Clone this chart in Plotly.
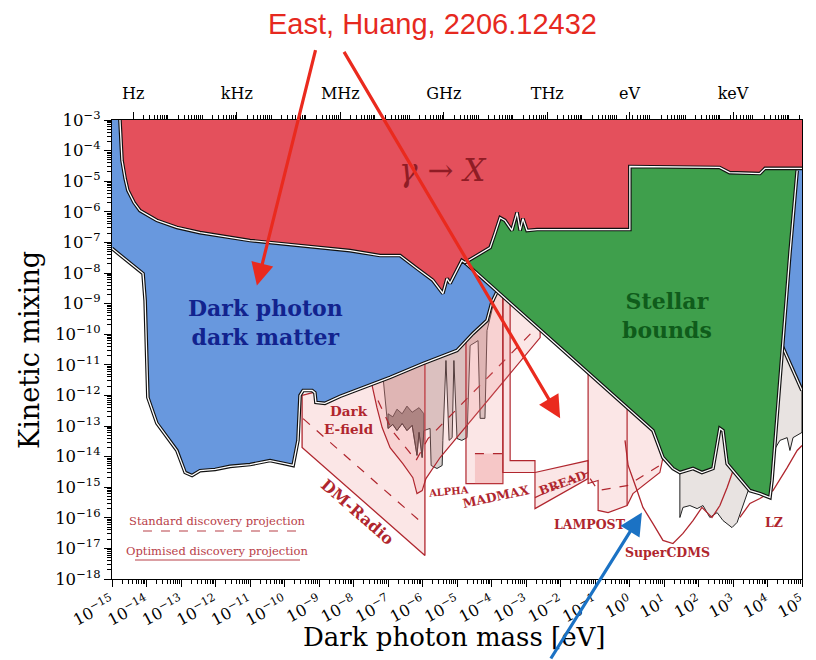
import plotly.graph_objects as go

# ---------------- data: (log10 mass [eV], log10 kinetic mixing) ----------------
RED_EDGE = [(-14.77, -3.00), (-14.74, -3.67), (-14.71, -4.32), (-14.62, -4.91), (-14.54, -5.30),
            (-14.36, -5.70), (-14.19, -5.96), (-13.90, -6.15), (-13.70, -6.28), (-13.12, -6.51),
            (-12.45, -6.68), (-11.00, -6.94), (-9.55, -7.10), (-8.10, -7.27), (-7.23, -7.43),
            (-6.65, -7.43), (-6.16, -7.85), (-5.70, -8.24), (-5.41, -8.67), (-5.29, -8.18),
            (-5.20, -8.34), (-5.00, -7.92), (-4.86, -7.59), (-4.77, -7.66), (-4.42, -7.43),
            (-4.04, -7.17), (-3.90, -6.71), (-3.75, -6.19), (-3.61, -6.28), (-3.41, -6.61),
            (-3.26, -6.02), (-3.17, -6.61), (-3.09, -6.22), (-2.97, -6.61), (-2.68, -6.58),
            (0.01, -6.58), (0.01, -4.52), (2.61, -4.55), (2.90, -4.72), (3.78, -4.75),
            (3.93, -4.58), (5.00, -4.58)]
RED_TOP = [(5.00, -3.00)]

BLUE_TOP = [(-15.00, -3.00), (5.00, -3.00), (5.00, -11.84)]
BLUE_RIGHT_EDGE = [(5.00, -11.84), (4.42, -10.37)]
BLUE_HIDDEN = [(4.30, -11.51), (1.10, -8.90), (-3.75, -8.25)]
BLUE_EDGE = [(-3.84, -8.61), (-3.90, -8.74), (-3.99, -8.96), (-4.13, -9.55), (-4.54, -9.98),
             (-5.00, -10.53), (-5.49, -10.73), (-5.99, -10.96), (-6.94, -11.41), (-7.81, -11.77),
             (-8.39, -12.03), (-8.83, -12.26), (-9.09, -12.23), (-9.12, -11.91), (-9.20, -11.84),
             (-9.46, -11.84), (-9.55, -12.00), (-9.61, -13.47), (-9.75, -14.29), (-9.99, -14.23),
             (-10.42, -14.13), (-11.00, -14.26), (-11.58, -14.32), (-12.01, -14.42), (-12.45, -14.46),
             (-12.68, -14.62), (-12.88, -14.52), (-13.12, -13.80), (-13.41, -13.37), (-13.70, -12.91),
             (-13.96, -12.07), (-13.99, -10.86), (-14.04, -8.90), (-14.10, -8.02), (-15.00, -7.20)]

GREEN_EDGE = [(-4.77, -7.66), (0.68, -13.15), (0.97, -14.03), (1.26, -14.39), (1.46, -14.52),
              (1.84, -14.39), (2.10, -14.52), (2.42, -14.39), (2.62, -13.08), (2.71, -13.15),
              (2.83, -14.23), (3.49, -15.11), (3.78, -15.21), (4.07, -15.34), (4.13, -14.78),
              (4.30, -12.27), (4.45, -10.11), (4.65, -7.36), (4.86, -4.65)]
GREEN_HIDDEN = [(4.86, -4.32), (-0.13, -4.32), (-0.13, -6.12), (-3.75, -6.12), (-3.90, -6.61),
                (-4.48, -7.33)]

HALOSCOPE_GRAY = [(-7.14, -11.45), (-7.00, -13.08), (-6.86, -12.95), (-6.74, -13.15), (-6.59, -12.92),
                  (-6.45, -13.15), (-6.30, -12.98), (-6.16, -13.96), (-6.10, -13.21), (-6.01, -14.03),
                  (-5.96, -13.15), (-5.78, -13.08), (-5.75, -14.29), (-5.58, -14.39), (-5.43, -14.29),
                  (-5.41, -13.47), (-5.32, -10.86), (-5.23, -13.47), (-5.14, -13.38), (-5.09, -10.86),
                  (-5.00, -13.41), (-4.86, -13.47), (-4.71, -13.38), (-4.62, -10.37), (-4.39, -10.21),
                  (-4.33, -12.75), (-4.19, -12.75), (-4.13, -9.88), (-3.99, -9.23), (-3.90, -8.74),
                  (-3.90, -8.25), (-7.14, -10.86)]
HALOSCOPE_DARK = [(-7.00, -13.08), (-6.86, -12.95), (-6.74, -13.15), (-6.59, -12.92), (-6.45, -13.15),
                  (-6.30, -12.98), (-6.16, -13.96), (-6.10, -13.21), (-6.01, -14.03), (-5.96, -13.15),
                  (-5.96, -12.60), (-6.10, -12.40), (-6.30, -12.55), (-6.45, -12.35), (-6.59, -12.60),
                  (-6.74, -12.45), (-6.86, -12.70), (-7.00, -12.60)]

DIRECT_GRAY = [(1.46, -14.29), (1.46, -15.99), (1.55, -15.66), (1.75, -15.60), (1.96, -15.70),
               (2.13, -15.60), (2.33, -15.99), (2.54, -15.83), (2.71, -16.09), (2.97, -16.32),
               (3.12, -16.15), (3.29, -15.60), (3.49, -14.95), (3.78, -14.46), (3.99, -13.97),
               (4.22, -13.74), (4.36, -13.47), (4.57, -13.38), (4.65, -13.80), (4.74, -13.38),
               (5.00, -13.21), (5.00, -11.84), (4.42, -10.37), (3.78, -11.51), (2.04, -13.47)]

DMRADIO = [(-9.49, -12.00), (-9.49, -13.70), (-5.93, -17.23), (-5.93, -10.96)]
DMRADIO_STD = [(-9.46, -12.76), (-5.93, -16.25)]
EFIELD = [(-7.46, -11.68), (-7.32, -12.40), (-7.17, -13.05), (-6.94, -13.71), (-6.57, -14.23),
          (-6.28, -14.69), (-6.16, -15.21), (-6.01, -15.11), (-5.90, -14.72), (-5.49, -14.03),
          (-2.59, -10.11), (-2.59, -9.60), (-3.84, -8.41), (-7.46, -11.19)]
EFIELD_STD = [(-7.29, -12.17), (-6.88, -13.15), (-6.42, -13.80), (-6.19, -14.13), (-5.84, -13.41),
              (-2.83, -9.94)]
ALPHA = [(-4.74, -8.50), (-4.74, -14.88), (-3.67, -14.88), (-3.67, -8.50)]
ALPHA_INNER = [(-4.48, -13.90), (-4.48, -14.88), (-3.67, -14.88), (-3.67, -13.90)]
ALPHA_STD = [(-4.48, -13.90), (-3.67, -13.90)]
MADMAX = [(-3.67, -8.40), (-3.67, -14.52), (-2.74, -14.52), (-2.74, -14.13), (-3.46, -14.13),
          (-3.46, -8.40)]
BREAD = [(-2.74, -14.52), (-2.74, -15.70), (-1.20, -14.72), (-1.20, -14.13)]
BREAD_STD = [(-2.74, -15.34), (-1.20, -14.52)]
LAMPOST = [(-1.20, -11.02), (-1.20, -14.88), (-0.91, -14.78), (-0.91, -15.76), (-0.62, -15.83),
           (-0.07, -15.60), (0.10, -15.21), (0.88, -14.52), (0.97, -14.03), (0.74, -12.98)]
LAMPOST_DIV = [(-0.07, -12.17), (-0.07, -15.60)]
LAMPOST_STD = [(-1.14, -14.72), (-0.91, -15.11), (-0.07, -14.95), (0.88, -14.29)]
SUPERCDMS = [(-0.13, -13.47), (-0.04, -14.29), (0.22, -15.11), (0.39, -15.66), (0.68, -16.19),
             (0.97, -16.74), (1.26, -16.84), (1.55, -16.51), (1.84, -16.09), (2.10, -15.66),
             (2.25, -15.83), (2.39, -15.99), (2.62, -15.60), (2.83, -15.01), (3.00, -14.46),
             (3.14, -14.39)]
LZ = [(3.20, -15.99), (3.49, -15.53), (3.78, -15.37), (4.16, -15.11), (4.57, -14.36),
      (4.86, -13.80), (5.00, -13.64)]

X_EXPS = list(range(-15, 6))
Y_EXPS = list(range(-18, -2))
TOP_LABELS = ["Hz", "kHz", "MHz", "GHz", "THz", "eV", "keV"]
TOP_VALUES_EV = [4.136e-15, 4.136e-12, 4.136e-9, 4.136e-6, 4.136e-3, 1.0, 1.0e3]

# ---------------- styling ----------------
RED_FILL = "#E4505C"
BLUE_FILL = "#6898DE"
GREEN_FILL = "#3F9F4C"
PINK = "rgba(236,140,140,0.22)"
PINK2 = "rgba(236,130,130,0.30)"
DR = "#B0262E"
SERIF = "DejaVu Serif"

fig = go.Figure()


def xy(pairs):
    return [10 ** p[0] for p in pairs], [10 ** p[1] for p in pairs]


def poly(pairs, fill, lc=None, lw=0.0):
    x, y = xy(pairs + [pairs[0]])
    fig.add_trace(go.Scatter(x=x, y=y, mode="lines", fill="toself", fillcolor=fill,
                             line=dict(color=lc or "rgba(0,0,0,0)", width=lw),
                             hoverinfo="skip", showlegend=False))


def path(pairs, color, lw, dash=None):
    x, y = xy(pairs)
    fig.add_trace(go.Scatter(x=x, y=y, mode="lines",
                             line=dict(color=color, width=lw, dash=dash),
                             hoverinfo="skip", showlegend=False))


def halo(pairs):
    path(pairs, "#111111", 3.6)
    path(pairs, "white", 1.3)


poly(HALOSCOPE_GRAY, "#D6CFCD", "#111111", 0.9)
poly(HALOSCOPE_DARK, "rgba(40,30,30,0.45)", "#111111", 0.8)
poly(DIRECT_GRAY, "#E8E3E1", "#222222", 1.0)

poly(DMRADIO, PINK, DR, 1.3)
path(DMRADIO_STD, DR, 1.2, "dash")
poly(EFIELD, PINK, DR, 1.2)
path(EFIELD_STD, DR, 1.2, "dash")
poly(ALPHA, PINK, DR, 1.2)
poly(ALPHA_INNER, PINK2, DR, 0.0)
path(ALPHA_STD, DR, 1.2, "dash")
poly(MADMAX, PINK, DR, 1.2)
poly(BREAD, PINK, DR, 1.2)
path(BREAD_STD, DR, 1.2, "dash")
poly(LAMPOST, PINK, DR, 1.2)
path(LAMPOST_DIV, DR, 1.2)
path(LAMPOST_STD, DR, 1.2, "dash")
path(SUPERCDMS, DR, 1.3)
path(LZ, DR, 1.3)

poly(BLUE_TOP + BLUE_RIGHT_EDGE[1:] + BLUE_HIDDEN + BLUE_EDGE, BLUE_FILL)
halo(BLUE_EDGE)
halo(BLUE_RIGHT_EDGE)

poly(GREEN_EDGE + GREEN_HIDDEN, GREEN_FILL)
halo(GREEN_EDGE)

poly(RED_EDGE + RED_TOP, RED_FILL)
halo(RED_EDGE)

# invisible trace so the top (frequency) axis is drawn
fig.add_trace(go.Scatter(x=[1e-15, 1e5], y=[1e-10, 1e-10], xaxis="x2", mode="markers",
                         marker=dict(opacity=0), hoverinfo="skip", showlegend=False))


def sup(e):
    return "10<sup>" + ("\u2212" if e < 0 else "") + str(abs(e)) + "</sup>"


x_minor = [k * 10.0 ** e for e in range(-15, 5) for k in range(2, 10)]
y_minor = [k * 10.0 ** e for e in range(-18, -3) for k in range(2, 10)]
top_minor = [k * 4.136e-15 * 10.0 ** n for n in range(0, 21) for k in range(1, 10)
             if not (k == 1 and n % 3 == 0)]
top_minor = [v for v in top_minor if 1e-15 < v < 1e5]

axis_common = dict(showgrid=False, zeroline=False, showline=True, linecolor="black",
                   linewidth=1.4, ticks="outside", tickcolor="black", tickwidth=1.3, ticklen=7,
                   automargin=False)

# the page body adds an 8 px offset, so the figure is 8 px smaller and margins are shifted
fig.update_layout(
    template="none",
    width=808, height=652,
    margin=dict(l=104, r=14, t=112, b=81),
    paper_bgcolor="white", plot_bgcolor="white",
    hovermode=False,
    xaxis=dict(type="log", range=[-15, 5], mirror=True,
               tickvals=[10.0 ** e for e in X_EXPS], ticktext=[sup(e) for e in X_EXPS],
               tickangle=-28, tickfont=dict(family=SERIF, size=16, color="black"),
               minor=dict(tickvals=x_minor, ticks="outside", ticklen=4, tickcolor="black", tickwidth=0.8),
               **axis_common),
    xaxis2=dict(type="log", range=[-15, 5], overlaying="x", side="top",
                tickvals=TOP_VALUES_EV, ticktext=TOP_LABELS, ticklabelstandoff=6,
                tickfont=dict(family=SERIF, size=16, color="black"),
                minor=dict(tickvals=top_minor, ticks="outside", ticklen=4, tickcolor="black", tickwidth=0.8),
                **axis_common),
    yaxis=dict(type="log", range=[-18, -3], mirror=True,
               tickvals=[10.0 ** e for e in Y_EXPS], ticktext=[sup(e) for e in Y_EXPS],
               tickfont=dict(family=SERIF, size=16.5, color="black"),
               minor=dict(tickvals=y_minor, ticks="outside", ticklen=4, tickcolor="black", tickwidth=0.8),
               **axis_common),
)

ann = []


def label(x, y, text, size, color, angle=0, family=SERIF):
    ann.append(dict(x=x, y=y, xref="x", yref="y", text=text, showarrow=False, textangle=angle,
                    xanchor="center", yanchor="middle",
                    font=dict(family=family, size=size, color=color)))


label(-10.55, -9.62, "<b>Dark photon<br>dark matter</b>", 22, "#12238E")
label(1.08, -9.40, "<b>Stellar<br>bounds</b>", 22, "#0F5C1B")
label(-5.42, -4.65, "<i>\u03b3</i> \u2192 <i>X</i>", 31, "#8F1C25")
label(-8.13, -12.79, "<b>Dark<br>E-field</b>", 13.5, DR)
label(-7.87, -15.83, "<b>DM-Radio</b>", 16, DR, 41)
label(-5.26, -15.14, "<b>ALPHA</b>", 10, DR, -5)
label(-3.87, -15.30, "<b>MADMAX</b>", 12.5, DR, -12)
label(-1.93, -14.85, "<b>BREAD</b>", 12, DR, -20)
label(-1.14, -16.22, "<b>LAMPOST</b>", 12.5, DR)
label(1.09, -17.13, "<b>SuperCDMS</b>", 12.5, DR)
label(4.19, -16.15, "<b>LZ</b>", 12.5, DR)

# paper-positioned text
ann.append(dict(x=0.1536, y=0.1264, xref="paper", yref="paper", text="Standard discovery projection",
                showarrow=False, xanchor="center", yanchor="middle",
                font=dict(family=SERIF, size=11.5, color="#B84048")))
ann.append(dict(x=0.1522, y=0.061, xref="paper", yref="paper", text="Optimised discovery projection",
                showarrow=False, xanchor="center", yanchor="middle",
                font=dict(family=SERIF, size=11.5, color="#B84048")))
ann.append(dict(x=0.497, y=-0.1264, xref="paper", yref="paper", text="Dark photon mass [eV]",
                showarrow=False, xanchor="center", yanchor="middle",
                font=dict(family=SERIF, size=26, color="black")))
ann.append(dict(x=-0.1188, y=0.499, xref="paper", yref="paper", text="Kinetic mixing", textangle=-90,
                showarrow=False, xanchor="center", yanchor="middle",
                font=dict(family=SERIF, size=27, color="black")))
ann.append(dict(x=0.4638, y=1.209, xref="paper", yref="paper", text="East, Huang, 2206.12432",
                showarrow=False, xanchor="center", yanchor="middle",
                font=dict(family="Liberation Sans", size=29, color="#E6291F")))

# arrows
for hx, hy, axp, ayp, col in [(-10.80, -8.41, 59, -237, "#EA2A1E"),
                              (-2.01, -12.75, -217, -368, "#EA2A1E"),
                              (0.36, -15.83, -92, 153, "#1B72C4")]:
    ann.append(dict(x=hx, y=hy, xref="x", yref="y", ax=axp, ay=ayp, axref="pixel", ayref="pixel",
                    text="", showarrow=True, arrowhead=2, arrowsize=1.4, arrowwidth=3.2,
                    arrowcolor=col, standoff=0))

fig.update_layout(annotations=ann)

# legend underlines
fig.add_shape(type="line", xref="paper", yref="paper", x0=0.0449, x1=0.2725, y0=0.1046, y1=0.1046,
              line=dict(color="#B84048", width=1.2, dash="dash"))
fig.add_shape(type="line", xref="paper", yref="paper", x0=0.0333, x1=0.2725, y0=0.0414, y1=0.0414,
              line=dict(color="#B84048", width=1.2))

fig.write_html("out.html")
